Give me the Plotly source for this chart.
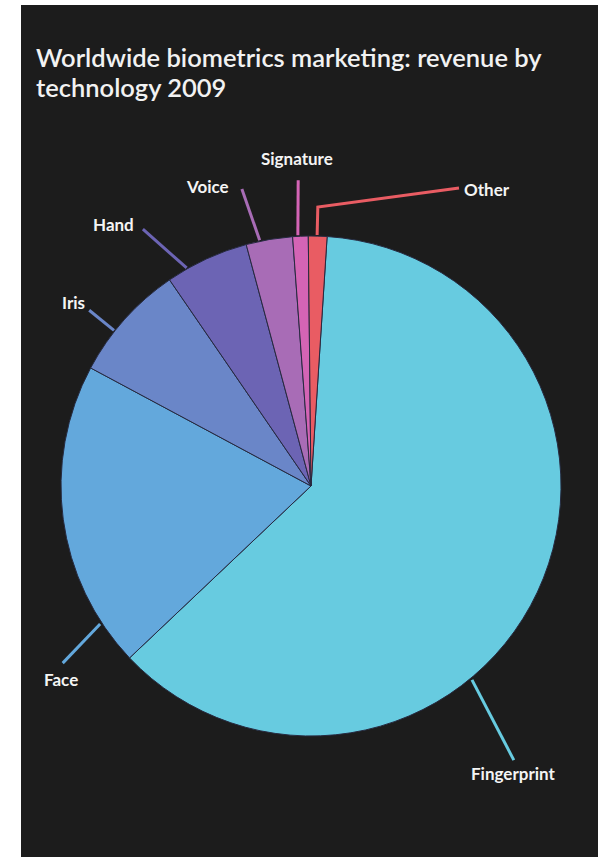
import math
import plotly.graph_objects as go

# ---- data ----
technologies = ["Fingerprint", "Face", "Iris", "Hand", "Voice", "Signature", "Other"]
revenue_share = [61.9, 19.9, 7.6, 5.4, 3.0, 1.0, 1.2]
slice_colors = ["#67cbe0", "#63a8dc", "#6a86c8", "#6c64b4", "#a86cb6", "#d464b5", "#e95c63"]

title_lines = ["Worldwide biometrics marketing: revenue by", "technology 2009"]

# ---- layout geometry (pixels) ----
W, H = 598, 857
CX, CY, R = 311, 486, 250
START_ANGLE = 3.7  # clockwise from 12 o'clock, where first slice begins
BG = "#1c1c1c"


def px(x):
    return x / W


def py(y):
    return 1 - y / H


def polar(angle_deg, r):
    a = math.radians(angle_deg)
    return CX + r * math.sin(a), CY - r * math.cos(a)


fig = go.Figure()

fig.add_trace(go.Pie(
    labels=technologies,
    values=revenue_share,
    sort=False,
    direction="clockwise",
    rotation=START_ANGLE,
    marker=dict(colors=slice_colors, line=dict(color="#262a40", width=1)),
    textinfo="none",
    hoverinfo="label+percent",
    showlegend=False,
    domain=dict(x=[px(CX - R), px(CX + R)], y=[py(CY + R), py(CY - R)]),
))

# leader lines: (angle, radius) points relative to pie centre
leaders = {
    "Fingerprint": dict(seg=[(140.3, 252), (143.5, 341)], text=(513, 773)),
    "Face": dict(seg=[(236.8, 252), (234.5, 305)], text=(61, 679)),
    "Iris": dict(seg=[(308.3, 251), (308.4, 283)], text=(73, 302)),
    "Hand": dict(seg=[(330.3, 251), (326.8, 307)], text=(113, 224)),
    "Voice": dict(seg=[(348.2, 251), (346.9, 305)], text=(207, 186)),
    "Signature": dict(seg=[(357.0, 251), (357.6, 306)], text=(297, 158)),
    "Other": dict(seg=[(1.4, 251), (1.4, 279)], text=(487, 190)),
}

shapes = [
    dict(type="rect", xref="paper", yref="paper", x0=px(21), x1=px(598), y0=py(857), y1=py(5),
         fillcolor=BG, line=dict(width=0), layer="below"),
]
annotations = []

for name, color in zip(technologies, slice_colors):
    info = leaders[name]
    pts = [polar(a, r) for a, r in info["seg"]]
    if name == "Other":
        pts.append((459, 188))
    path = "M " + " L ".join(f"{px(x)},{py(y)}" for x, y in pts)
    shapes.append(dict(type="path", xref="paper", yref="paper", path=path,
                       line=dict(color=color, width=3)))
    tx, ty = info["text"]
    annotations.append(dict(x=px(tx), y=py(ty), xref="paper", yref="paper", text=name,
                            showarrow=False, xanchor="center", yanchor="middle",
                            font=dict(family="Lato", size=17, color="#f4f4f4", weight="bold")))

for i, line in enumerate(title_lines):
    annotations.append(dict(x=px(34), y=py(57 + 30 * i), xref="paper", yref="paper",
                            text=line, showarrow=False, align="left",
                            xanchor="left", yanchor="middle",
                            font=dict(family="Lato", size=25.5, color="#f2f2f2", weight=600)))

fig.update_layout(
    width=W, height=H,
    margin=dict(l=0, r=0, t=0, b=0),
    paper_bgcolor="white",
    plot_bgcolor="white",
    shapes=shapes,
    annotations=annotations,
)

fig.write_html("out.html", config={"displayModeBar": False},
               post_script="document.body.style.margin='0';document.body.style.overflow='hidden';")
